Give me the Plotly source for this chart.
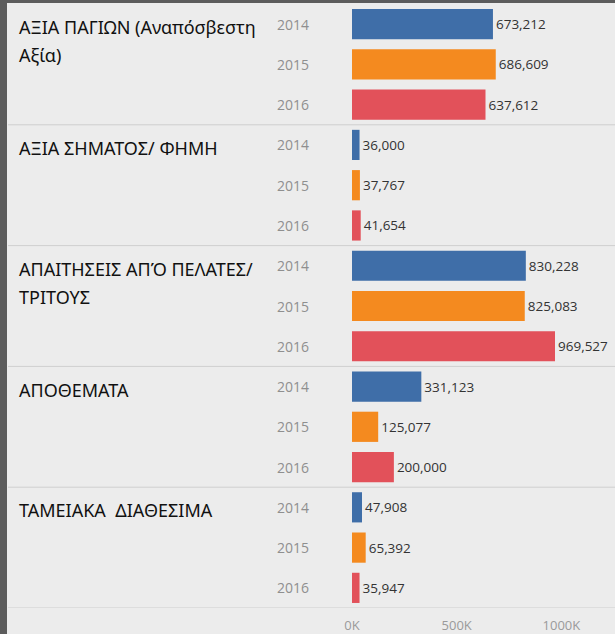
import plotly.graph_objects as go

categories = ["ΑΞΙΑ ΠΑΓΙΩΝ (Αναπόσβεστη\nΑξία)",
              "ΑΞΙΑ ΣΗΜΑΤΟΣ/ ΦΗΜΗ",
              "ΑΠΑΙΤΗΣΕΙΣ ΑΠΌ ΠΕΛΑΤΕΣ/\nΤΡΙΤΟΥΣ",
              "ΑΠΟΘΕΜΑΤΑ",
              "ΤΑΜΕΙΑΚΑ  ΔΙΑΘΕΣΙΜΑ"]
years = ["2014", "2015", "2016"]
values_2014 = [673212, 36000, 830228, 331123, 47908]
values_2015 = [686609, 37767, 825083, 125077, 65392]
values_2016 = [637612, 41654, 969527, 200000, 35947]
tick_vals = [0, 500000, 1000000]
tick_text = ["0K", "500K", "1000K"]

colors = {"2014": "#3f6ea8", "2015": "#f48a1f", "2016": "#e2515a"}
series = {"2014": values_2014, "2015": values_2015, "2016": values_2016}

TOPBAR = 3
W, H = 615, 634 - TOPBAR
ML, MT, MB = 352, 1, 26
PW = W - ML
PH = H - MT - MB

fig = go.Figure()
for j, yr in enumerate(years):
    ys = [i * 3 + j for i in range(len(categories))]
    fig.add_trace(go.Bar(
        x=series[yr], y=ys, orientation="h", width=0.75,
        marker=dict(color=colors[yr], line=dict(width=0)),
        text=[f"{v:,}" for v in series[yr]], textposition="outside",
        textfont=dict(family="Open Sans", size=13.5, color="#333333"),
        cliponaxis=False, showlegend=False, hoverinfo="skip"))

def px2paper(px):
    return (px - ML) / PW

ann = []
shapes = []
for i, cat in enumerate(categories):
    lines = cat.split("\n")
    for k, line in enumerate(lines):
        ann.append(dict(text=line, x=px2paper(17), xref="paper", xanchor="left",
                        y=i * 3, yref="y", yanchor="middle", yshift=-3 - 28 * k,
                        showarrow=False,
                        font=dict(family="Noto Sans", size=18, color="#111111")))
    for j, yr in enumerate(years):
        ann.append(dict(text=yr, x=px2paper(275), xref="paper", xanchor="left",
                        y=i * 3 + j, yref="y", yanchor="middle", showarrow=False,
                        font=dict(family="Open Sans", size=14, color="#8f8f8f")))
    shapes.append(dict(type="line", xref="paper", yref="y",
                       x0=px2paper(8), x1=1, y0=i * 3 + 2.5, y1=i * 3 + 2.5,
                       line=dict(color="#cfcfcf", width=1)))

# left border
shapes.append(dict(type="rect", xref="paper", yref="paper",
                   x0=px2paper(0), x1=px2paper(7), y0=-MB / PH, y1=1 + MT / PH,
                   fillcolor="#5c5c5c", line=dict(width=0), layer="above"))

n = len(categories) * 3
fig.update_layout(
    width=W, height=H, margin=dict(l=ML, r=0, t=MT, b=MB),
    paper_bgcolor="#ececec", plot_bgcolor="#ececec",
    barmode="overlay", annotations=ann, shapes=shapes,
    xaxis=dict(range=[0, PW * 4776], tickvals=tick_vals, ticktext=tick_text,
               showgrid=False, zeroline=False, showline=False, ticks="",
               automargin=False, ticklabelstandoff=8,
               tickfont=dict(family="Open Sans", size=13, color="#9a9a9a")),
    yaxis=dict(range=[n - 0.5, -0.5], showticklabels=False, showgrid=False,
               zeroline=False, showline=False, ticks=""),
)
fig.write_html("out.html", config={"displayModeBar": False},
               post_script=("document.body.style.margin='0';"
                            "document.body.style.overflow='hidden';"
                            "document.body.style.background='#5c5c5c';"
                            "document.body.style.borderTop='%dpx solid #5c5c5c';" % TOPBAR))
